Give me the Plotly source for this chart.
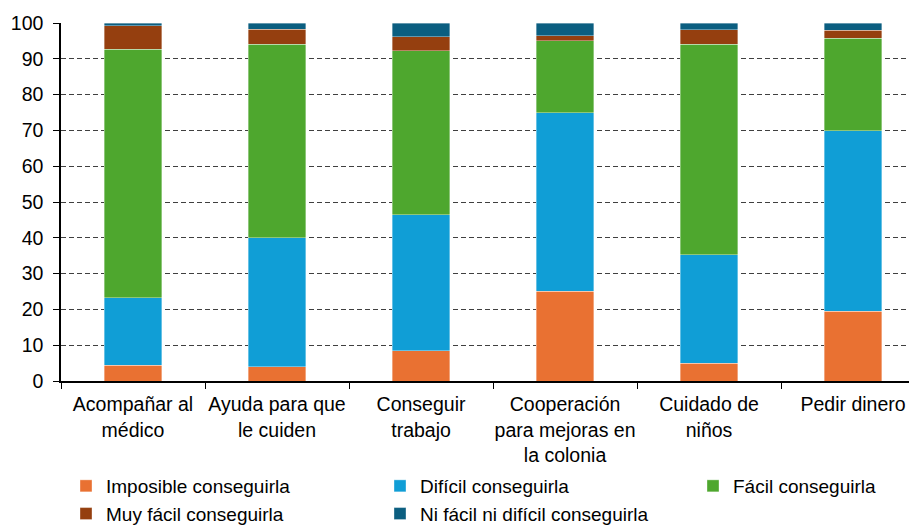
import plotly.graph_objects as go

categories = [
    "Acompañar al<br>médico",
    "Ayuda para que<br>le cuiden",
    "Conseguir<br>trabajo",
    "Cooperación<br>para mejoras en<br>la colonia",
    "Cuidado de<br>niños",
    "Pedir dinero",
]

imposible = [4.4, 4.0, 8.4, 25.1, 5.0, 19.5]
dificil = [18.9, 36.0, 38.0, 49.9, 30.3, 50.4]
facil = [69.3, 54.0, 45.8, 20.0, 58.7, 25.8]
muy_facil = [6.6, 4.3, 3.9, 1.5, 4.1, 2.3]
ni_facil = [0.8, 1.7, 3.9, 3.5, 1.9, 2.0]

# (name, values, colour, legend column)
series = [
    ("Imposible conseguirla", imposible, "#E97132", "legend"),
    ("Difícil conseguirla", dificil, "#109ED6", "legend2"),
    ("Fácil conseguirla", facil, "#4EA72E", "legend3"),
    ("Muy fácil conseguirla", muy_facil, "#953F0F", "legend"),
    ("Ni fácil ni difícil conseguirla", ni_facil, "#0B5E80", "legend2"),
]

# the page body adds an 8px margin, so the figure is drawn 8px smaller
W, H = 909, 517
FONT = "Liberation Sans, Arial, sans-serif"

fig = go.Figure()
for name, vals, color, leg in series:
    fig.add_trace(go.Bar(
        x=categories,
        y=vals,
        name=name,
        legend=leg,
        legendgroup=name,
        marker=dict(color=color, line=dict(color="rgba(255,255,255,0.6)", width=0.6)),
        width=0.40,
    ))


def legend_col(x_px):
    return dict(
        orientation="v",
        xref="container", yref="container",
        x=x_px / W, y=1 - 459 / H,
        xanchor="left", yanchor="top",
        traceorder="normal",
        tracegroupgap=5,
        font=dict(family=FONT, size=19, color="#000000"),
        bgcolor="rgba(0,0,0,0)",
    )


fig.update_layout(
    barmode="stack",
    width=W,
    height=H,
    margin=dict(l=53, r=0, t=15, b=144, autoexpand=False),
    plot_bgcolor="white",
    paper_bgcolor="white",
    font=dict(family=FONT, size=19.5, color="#000000"),
    legend=legend_col(58),
    legend2=legend_col(372),
    legend3=legend_col(685),
)

fig.update_xaxes(
    range=[-0.5, 5.444],
    automargin=False,
    showline=True, linecolor="#000000", linewidth=1.5,
    ticks="outside", tickson="boundaries", ticklen=6, tickcolor="#000000",
    tickangle=0,
    ticklabelstandoff=5,
    tickfont=dict(size=19.5),
    showgrid=False,
)
fig.update_yaxes(
    range=[0, 100],
    dtick=10,
    automargin=False,
    showline=True, linecolor="#000000", linewidth=1.5,
    ticks="outside", ticklen=6, tickcolor="#000000",
    ticklabelstandoff=6,
    tickfont=dict(size=19.5),
    showgrid=True, gridcolor="#404040", gridwidth=1, griddash="5px,3px",
    zeroline=False,
)

fig.write_html("out.html")
